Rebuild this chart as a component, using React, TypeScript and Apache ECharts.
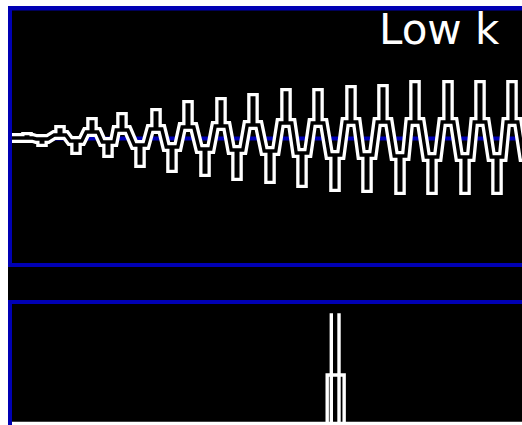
import React, { useEffect, useRef } from "react";
import * as echarts from "echarts";

// Wave in the upper panel: positions (px along the trace) and levels of each extreme and its shoulders
const peakX = [27, 60, 92, 122, 156, 188, 221, 253, 286, 318, 351, 383, 415, 448, 480, 512];
const peakLevels = [1, 8, 16, 21, 25, 33, 36, 40, 45, 45, 48, 49, 53, 53, 53, 53];
const upperShoulders = [0, 3, 6, 8, 9, 11, 12, 13, 15, 15, 16, 16, 16, 16, 16, 16];
const troughX = [42, 76, 108, 140, 172, 205, 237, 270, 302, 335, 367, 400, 432, 465, 497, 529];
const troughLevels = [-4, -12, -15, -25, -30, -34, -38, -41, -45, -49, -50, -52, -52, -52, -52, -52];
const lowerShoulders = [-1, -3, -4, -7, -9, -11, -12, -13, -15, -17, -17, -18, -19, -19, -19, -19];
const shoulderWidth = 5.8;

// Spectrum (lower panel): wide low step and narrow tall spike
const specWide: [number, number][] = [[0, -10], [62.1, 47], [65.4, -10], [100, -10]];
const specPeak: [number, number][] = [[0, -10], [62.9, 150], [64.4, -10], [100, -10]];

const label = "Low k";
const BLUE = "#0000b4";

function buildWave(): [number, number][] {
  type Ext = { x: number; v: number; s: number };
  const ext: Ext[] = [];
  for (let k = 0; k < peakX.length; k++) {
    ext.push({ x: peakX[k], v: peakLevels[k], s: upperShoulders[k] });
    ext.push({ x: troughX[k], v: troughLevels[k], s: lowerShoulders[k] });
  }
  const a = shoulderWidth;
  const h = 0.8;
  const pts: [number, number][] = [[0, 0], [ext[0].x - a, 0]];
  for (let i = 0; i < ext.length; i++) {
    const e = ext[i];
    pts.push([e.x - a, e.s], [e.x - h, e.s], [e.x - h, e.v], [e.x + h, e.v], [e.x + h, e.s], [e.x + a, e.s]);
  }
  return pts;
}

export default function App() {
  const ref = useRef<HTMLDivElement>(null);
  useEffect(() => {
    const chart = echarts.init(ref.current!, null, { renderer: "svg" });
    const wave = buildWave();
    chart.setOption({
      animation: false,
      backgroundColor: "transparent",
      grid: [
        { left: 0, top: 10, width: 522, height: 256 },
        { left: 8, top: 315, width: 514, height: 107 },
      ],
      xAxis: [
        { type: "value", gridIndex: 0, min: 0, max: 522, show: false },
        { type: "value", gridIndex: 1, min: 0, max: 100, show: false },
      ],
      yAxis: [
        { type: "value", gridIndex: 0, min: -128, max: 128, show: false },
        { type: "value", gridIndex: 1, min: 0, max: 107, show: false },
      ],
      graphic: [
        { type: "rect", z: 0, shape: { x: 8, y: 6, width: 514, height: 415.7 }, style: { fill: "#000" }, silent: true },
        { type: "rect", z: 1, shape: { x: 8, y: 136.5, width: 514, height: 4 }, style: { fill: BLUE }, silent: true },
        { type: "rect", z: 1, shape: { x: 8, y: 263, width: 514, height: 4 }, style: { fill: BLUE }, silent: true },
        { type: "rect", z: 1, shape: { x: 8, y: 300, width: 514, height: 4 }, style: { fill: BLUE }, silent: true },
        { type: "rect", z: 20, shape: { x: 0, y: 0, width: 8, height: 425 }, style: { fill: "#ffffff" }, silent: true },
        { type: "rect", z: 20, shape: { x: 8, y: 6, width: 514, height: 4.5 }, style: { fill: BLUE }, silent: true },
        { type: "rect", z: 20, shape: { x: 8, y: 6, width: 4, height: 261 }, style: { fill: BLUE }, silent: true },
        { type: "rect", z: 20, shape: { x: 8, y: 300, width: 4, height: 125 }, style: { fill: BLUE }, silent: true },
        {
          type: "text",
          z: 10,
          x: 379,
          y: 8,
          style: {
            text: label,
            fill: "#ffffff",
            font: "42px 'DejaVu Sans'",
            verticalAlign: "top",
            lineHeight: 42,
          },
          silent: true,
        },
      ],
      series: [
        {
          type: "line",
          xAxisIndex: 0,
          yAxisIndex: 0,
          data: wave,
          symbol: "none",
          z: 5,
          lineStyle: { color: "#ffffff", width: 10, join: "miter", cap: "square", miterLimit: 20 },
          silent: true,
        },
        {
          type: "line",
          xAxisIndex: 0,
          yAxisIndex: 0,
          data: wave,
          symbol: "none",
          z: 6,
          lineStyle: { color: "#000000", width: 3.4, join: "miter", cap: "square", miterLimit: 20 },
          silent: true,
        },
        {
          type: "line",
          xAxisIndex: 1,
          yAxisIndex: 1,
          data: specWide,
          step: "end",
          symbol: "none",
          z: 5,
          lineStyle: { color: "#ffffff", width: 3.4, join: "miter" },
          silent: true,
        },
        {
          type: "line",
          xAxisIndex: 1,
          yAxisIndex: 1,
          data: specPeak,
          step: "end",
          symbol: "none",
          z: 5,
          lineStyle: { color: "#ffffff", width: 3.4, join: "miter" },
          silent: true,
        },
      ],
    });
    return () => chart.dispose();
  }, []);
  return <div ref={ref} style={{ position: "absolute", left: 0, top: 0, width: 522, height: 425 }} />;
}
